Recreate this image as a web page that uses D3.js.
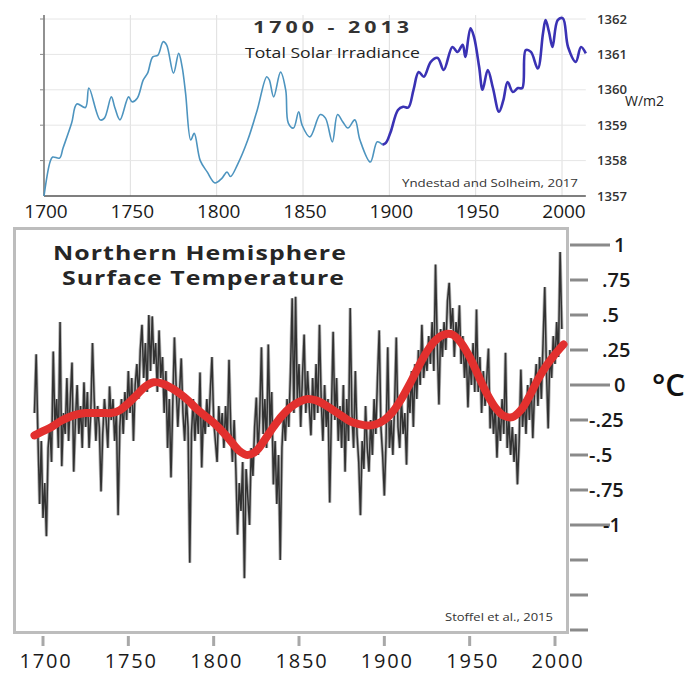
<!DOCTYPE html>
<html><head><meta charset="utf-8">
<script src="https://cdn.jsdelivr.net/npm/d3@7"></script>
<style>
html,body{margin:0;padding:0;background:#fff;}
svg{display:block;font-family:"Open Sans",sans-serif;}
</style></head>
<body>
<svg id="c" width="695" height="673"></svg>
<script>
// ---------- DATA ----------
// Top: Total Solar Irradiance (W/m2), Yndestad and Solheim 2017
const tsiYearsEarly = [1700,1703.5,1705,1709,1711,1716,1719,1724,1726,1732.5,1735,1739,1741,1744,1749,1751,1754,1757.5,1760,1763,1766,1769,1771,1775,1778,1780,1782,1785,1787,1790.5,1794.5,1799,1803,1806,1808,1812,1818,1823.5,1829,1830.5,1833,1837,1840,1841.5,1844.5,1847.5,1849.5,1854,1860,1863,1867,1870,1873,1876,1880,1883,1889,1893,1896];
const tsiValuesEarly = [1357.0,1357.96,1358.1,1358.07,1358.35,1359.06,1359.6,1359.5,1360.05,1359.15,1359.2,1359.8,1359.5,1359.15,1359.8,1359.66,1359.76,1360.28,1360.47,1360.93,1360.98,1361.36,1361.27,1360.47,1361.03,1360.65,1359.9,1358.58,1358.77,1358.0,1357.68,1357.37,1357.5,1357.68,1357.55,1357.88,1358.58,1359.43,1360.37,1360.28,1359.8,1360.5,1359.99,1359.06,1358.92,1359.38,1359.0,1358.67,1359.3,1359.2,1358.53,1359.3,1359.1,1358.92,1359.15,1358.58,1357.96,1358.53,1358.45];
const tsiYearsLate = [1896,1898,1900.7,1905,1908,1911,1914,1917,1920,1924,1928,1931.5,1936.5,1939.5,1942.5,1944,1947,1949,1952,1954,1957,1960,1963.5,1966,1968.5,1971.5,1974.5,1977,1979,1982,1986,1989,1990.5,1992.5,1994.5,1997.5,2000.5,2003.5,2008,2011,2013.8];
const tsiValuesLate = [1358.45,1358.5,1358.8,1359.43,1359.52,1359.5,1360.0,1360.5,1360.37,1360.79,1360.9,1360.56,1361.21,1361.07,1361.27,1360.93,1361.74,1361.5,1360.65,1360.0,1360.56,1360.05,1359.38,1359.7,1360.22,1359.94,1360.05,1360.05,1361.12,1361.07,1360.6,1361.6,1361.97,1361.63,1361.21,1361.97,1362.02,1361.21,1360.79,1361.21,1361.03];
const tsiTicks = [1357,1358,1359,1360,1361,1362];
const yearTicks = [1700,1750,1800,1850,1900,1950,2000];

// Bottom: Northern Hemisphere surface temperature (°C), Stoffel et al. 2015
const tempStartYear = 1695;
const tempValues = [
-0.20,0.22,-0.35,-0.85,-0.40,-0.95,-0.70,-1.08,-0.45,-0.30,
-0.55,0.24,-0.30,-0.10,-0.45,0.45,-0.58,-0.20,-0.35,0.05,
-0.40,-0.10,0.16,-0.62,-0.25,0.00,-0.35,-0.15,-0.45,0.02,
-0.30,-0.05,-0.45,-0.20,0.30,-0.10,-0.40,-0.15,-0.30,-0.76,
-0.35,-0.10,-0.25,-0.45,-0.01,-0.25,-0.10,-0.40,-0.20,-0.93,
-0.30,-0.10,-0.35,-0.05,-0.25,0.10,-0.20,0.05,-0.40,0.00,
0.15,-0.10,0.25,0.43,0.05,0.30,-0.05,0.50,0.10,0.49,
0.15,0.30,-0.05,0.39,0.05,0.20,-0.20,0.10,-0.45,-0.10,
-0.66,-0.15,0.34,0.00,-0.30,-0.05,0.19,-0.20,-0.40,-0.10,
-0.30,-1.27,-0.35,-0.10,-0.40,-0.15,-0.35,0.09,-0.59,-0.20,
-0.35,-0.10,-0.30,-0.05,0.20,-0.25,-0.40,-0.55,-0.15,-0.35,
-0.20,-0.45,-0.15,-0.40,0.18,-0.30,-0.55,-0.25,-0.60,-1.07,
-0.70,-0.90,-0.55,-1.38,-0.60,-0.80,-1.00,-0.45,-0.65,-0.30,
-0.09,-0.50,-0.20,0.27,-0.35,-0.10,-0.45,0.29,-0.30,-0.05,
-0.71,-0.40,-0.85,-0.50,-1.25,-0.45,-0.20,-0.40,-0.10,-0.30,
0.09,0.62,-0.20,0.63,-0.10,0.15,-0.30,0.05,0.36,-0.20,
0.10,-0.15,-0.36,0.05,-0.25,0.15,-0.20,0.43,-0.10,-0.40,
0.00,-0.30,-0.10,-0.84,-0.20,0.38,-0.25,0.05,-0.40,-0.15,
-0.45,0.00,-0.62,-0.10,-0.40,0.55,-0.20,-0.45,0.10,-0.35,
-0.55,-0.93,-0.40,-0.60,-0.15,-0.45,-0.62,-0.25,-0.50,-0.10,
-0.35,0.05,0.39,-0.30,-0.50,-0.79,-0.40,0.27,-0.45,-0.25,
-0.50,-0.15,0.34,-0.30,-0.45,-0.10,-0.35,-0.20,-0.57,-0.05,
-0.20,0.10,-0.30,0.15,-0.10,0.25,0.00,0.43,0.05,0.20,
0.10,0.35,0.15,0.45,0.10,0.86,0.30,-0.14,0.40,0.20,
0.45,0.25,0.60,0.73,0.40,0.55,0.20,0.45,0.30,0.57,
0.15,0.35,0.05,0.25,-0.16,0.20,0.00,0.30,-0.05,0.54,
-0.05,0.20,-0.20,0.10,-0.15,0.05,0.26,-0.31,-0.10,-0.35,
-0.15,-0.52,-0.20,-0.40,-0.10,-0.35,0.23,-0.45,-0.25,-0.50,
-0.30,-0.55,-0.35,-0.71,-0.40,0.11,-0.30,-0.10,-0.35,0.00,
-0.25,0.05,-0.38,-0.05,0.15,-0.15,0.20,-0.10,0.30,0.70,
0.10,-0.31,0.25,0.05,0.35,0.15,0.45,0.20,0.95,0.40
];
const smoothYears = [1695,1700,1705,1710,1715,1720,1725,1730,1735,1740,1745,1750,1755,1760,1765,1770,1775,1780,1785,1790,1795,1800,1805,1810,1815,1820,1825,1830,1835,1840,1845,1850,1855,1860,1865,1870,1875,1880,1885,1890,1895,1900,1905,1910,1915,1920,1925,1930,1935,1940,1945,1950,1955,1960,1965,1970,1975,1980,1985,1990,1995,2000,2005];
const smoothValues = [-0.36,-0.33,-0.30,-0.26,-0.23,-0.21,-0.20,-0.20,-0.20,-0.20,-0.18,-0.13,-0.07,-0.01,0.02,0.01,-0.02,-0.06,-0.11,-0.17,-0.22,-0.27,-0.33,-0.40,-0.47,-0.50,-0.47,-0.39,-0.30,-0.22,-0.16,-0.12,-0.10,-0.11,-0.14,-0.18,-0.22,-0.26,-0.28,-0.29,-0.28,-0.25,-0.19,-0.10,0.01,0.13,0.24,0.32,0.36,0.36,0.30,0.20,0.07,-0.06,-0.16,-0.22,-0.23,-0.18,-0.08,0.04,0.14,0.22,0.29];
const tempTicks = [1,0.75,0.5,0.25,0,-0.25,-0.5,-0.75,-1,-1.25,-1.5,-1.75];
const tempTickLabels = ["1",".75",".5",".25","0","-.25","-.5","-.75","-1","","",""];

// ---------- DRAW ----------
const svg = d3.select("#c");
const font = '"Open Sans", sans-serif';

// ===== TOP CHART =====
const xT = d3.scaleLinear().domain([1700, 2000]).range([44, 562]);
const yT = d3.scaleLinear().domain([1357, 1362]).range([196, 19]);
const gTop = svg.append("g");

gTop.selectAll(".vg").data(yearTicks.slice(1)).enter().append("line")
  .attr("x1", d => xT(d)).attr("x2", d => xT(d)).attr("y1", 15).attr("y2", 196)
  .attr("stroke", "#dedede").attr("stroke-width", 1);
gTop.selectAll(".hg").data(tsiTicks.slice(1)).enter().append("line")
  .attr("x1", 44).attr("x2", xT(2013.8)).attr("y1", d => yT(d)).attr("y2", d => yT(d))
  .attr("stroke", "#e6e6e6").attr("stroke-width", 1);

gTop.append("line").attr("x1", 44).attr("x2", 44).attr("y1", 15).attr("y2", 196)
  .attr("stroke", "#555").attr("stroke-width", 1.3);
gTop.selectAll(".lt").data(tsiTicks.slice(1)).enter().append("line")
  .attr("x1", 40).attr("x2", 44).attr("y1", d => yT(d)).attr("y2", d => yT(d))
  .attr("stroke", "#888").attr("stroke-width", 1);
gTop.append("line").attr("x1", 44).attr("x2", xT(2013.8)).attr("y1", 196).attr("y2", 196)
  .attr("stroke", "#555").attr("stroke-width", 1.3);

gTop.selectAll(".rl").data(tsiTicks).enter().append("text")
  .attr("x", 597).attr("y", d => yT(d) + 4.5)
  .attr("font-family", font).attr("font-size", 12.5).attr("font-weight", 600).attr("fill", "#333")
  .attr("textLength", 30).attr("lengthAdjust", "spacingAndGlyphs")
  .text(d => d);
gTop.append("text").attr("x", 625).attr("y", 106)
  .attr("font-family", font).attr("font-size", 14).attr("fill", "#222")
  .text("W/m2");

gTop.selectAll(".xl").data(yearTicks).enter().append("text")
  .attr("x", d => xT(d) + 2).attr("y", 218).attr("text-anchor", "middle")
  .attr("font-family", font).attr("font-size", 19).attr("fill", "#1a1a1a")
  .text(d => d);

const lineT = d3.line().x(d => xT(d[0])).y(d => yT(d[1])).curve(d3.curveCatmullRom.alpha(0.5));
gTop.append("path").datum(d3.zip(tsiYearsEarly, tsiValuesEarly)).attr("d", lineT)
  .attr("fill", "none").attr("stroke", "#4d94bf").attr("stroke-width", 1.6);
gTop.append("path").datum(d3.zip(tsiYearsLate, tsiValuesLate)).attr("d", lineT)
  .attr("fill", "none").attr("stroke", "#3a32b4").attr("stroke-width", 2.6).attr("stroke-linejoin", "round");

gTop.append("text").attr("x", 253).attr("y", 33)
  .attr("font-family", font).attr("font-size", 16).attr("font-weight", 700).attr("fill", "#333")
  .attr("letter-spacing", 3)
  .attr("textLength", 160).attr("lengthAdjust", "spacingAndGlyphs")
  .text("1700 - 2013");
gTop.append("text").attr("x", 245).attr("y", 58)
  .attr("font-family", font).attr("font-size", 14).attr("fill", "#222")
  .attr("textLength", 175).attr("lengthAdjust", "spacingAndGlyphs")
  .text("Total Solar Irradiance");
gTop.append("text").attr("x", 578).attr("y", 187).attr("text-anchor", "end")
  .attr("font-family", font).attr("font-size", 10.5).attr("fill", "#333")
  .attr("textLength", 176).attr("lengthAdjust", "spacingAndGlyphs")
  .text("Yndestad and Solheim, 2017");

// ===== BOTTOM CHART =====
const xB = d3.scaleLinear().domain([1700, 2000]).range([43, 555]);
const yB = d3.scaleLinear().domain([0, 1]).range([385, 245]);
const gBot = svg.append("g");

gBot.append("rect").attr("x", 14.5).attr("y", 228.5).attr("width", 553).attr("height", 404)
  .attr("fill", "#fff").attr("stroke", "#bdbdbd").attr("stroke-width", 3);

gBot.selectAll(".rt").data(tempTicks).enter().append("line")
  .attr("x1", 570).attr("x2", d => (Number.isInteger(d) && d >= -1) ? 610 : 588)
  .attr("y1", d => yB(d)).attr("y2", d => yB(d))
  .attr("stroke", "#8a8a8a").attr("stroke-width", 3);
const labelX = l => l === "1" || l === "0" ? 614 : (l === "-1" ? 603 : (l.startsWith("-") ? 589 : 602));
gBot.selectAll(".rlb").data(tempTicks).enter().append("text")
  .attr("x", (d, i) => labelX(tempTickLabels[i])).attr("y", d => yB(d) + 7)
  .attr("font-family", font).attr("font-size", 20).attr("font-weight", 600).attr("fill", "#1a1a1a")
  .text((d, i) => tempTickLabels[i]);
gBot.append("text").attr("x", 652).attr("y", 396)
  .attr("font-family", font).attr("font-size", 31).attr("font-weight", 600).attr("fill", "#111")
  .text("°C");

gBot.selectAll(".bt").data(yearTicks).enter().append("line")
  .attr("x1", d => xB(d)).attr("x2", d => xB(d)).attr("y1", 636).attr("y2", 646)
  .attr("stroke", "#a8a8a8").attr("stroke-width", 3);
gBot.selectAll(".bl").data(yearTicks).enter().append("text")
  .attr("x", d => xB(d) + 3).attr("y", 668).attr("text-anchor", "middle")
  .attr("font-family", font).attr("font-size", 20).attr("fill", "#1a1a1a")
  .attr("letter-spacing", 1.8)
  .text(d => d);

gBot.append("text").attr("x", 53).attr("y", 260)
  .attr("font-family", font).attr("font-size", 19).attr("font-weight", 700).attr("fill", "#262626")
  .attr("letter-spacing", 0.8)
  .attr("textLength", 294).attr("lengthAdjust", "spacingAndGlyphs")
  .text("Northern Hemisphere");
gBot.append("text").attr("x", 62).attr("y", 285)
  .attr("font-family", font).attr("font-size", 19).attr("font-weight", 700).attr("fill", "#262626")
  .attr("letter-spacing", 0.8)
  .attr("textLength", 283).attr("lengthAdjust", "spacingAndGlyphs")
  .text("Surface Temperature");
gBot.append("text").attr("x", 553).attr("y", 621).attr("text-anchor", "end")
  .attr("font-family", font).attr("font-size", 10.5).attr("fill", "#333")
  .attr("textLength", 108).attr("lengthAdjust", "spacingAndGlyphs")
  .text("Stoffel et al., 2015");

const tempData = tempValues.map((v, i) => [tempStartYear + i, v]);
const lineB = d3.line().x(d => xB(d[0])).y(d => yB(d[1]));
gBot.append("path").datum(tempData).attr("d", lineB)
  .attr("fill", "none").attr("stroke", "#666").attr("stroke-width", 3.2).attr("stroke-opacity", 0.5);
gBot.append("path").datum(tempData).attr("d", lineB)
  .attr("fill", "none").attr("stroke", "#111").attr("stroke-width", 1.5).attr("stroke-opacity", 0.8);

const lineS = d3.line().x(d => xB(d[0])).y(d => yB(d[1])).curve(d3.curveCatmullRom.alpha(0.5));
gBot.append("path").datum(d3.zip(smoothYears, smoothValues)).attr("d", lineS)
  .attr("fill", "none").attr("stroke", "#e2302e").attr("stroke-width", 8)
  .attr("stroke-linecap", "round").attr("stroke-linejoin", "round");
</script>
</body></html>
